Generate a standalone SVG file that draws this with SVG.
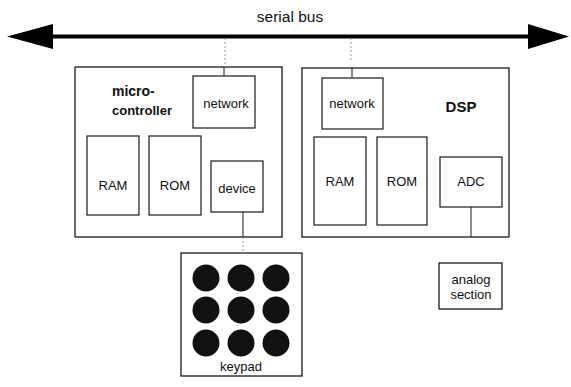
<svg xmlns="http://www.w3.org/2000/svg" width="571" height="387" viewBox="0 0 571 387">
<style>
.box{fill:#fff;stroke:#1a1a1a;stroke-width:1.3}
.in{fill:#fff;stroke:#1a1a1a;stroke-width:1.2}
.t{font-family:"Liberation Sans",Arial,sans-serif;font-size:13px;fill:#111;text-anchor:middle}
.b{font-weight:bold}
.w{stroke:#1a1a1a;stroke-width:1;fill:none}
.f{stroke:#999;stroke-width:1;fill:none;stroke-dasharray:2 2}
.key{fill:#111}
</style>
<rect width="571" height="387" fill="#fff"/>
<g id="bus">
<line x1="40" y1="36.5" x2="535" y2="36.5" stroke="#000" stroke-width="4"/>
<polygon points="7,36.5 53,24 53,49" fill="#000"/>
<polygon points="569,36.5 528,24 528,49" fill="#000"/>
<text class="t" x="290" y="22" style="font-size:15.5px">serial bus</text>
</g>
<g id="microcontroller">
<rect class="box" x="75" y="67" width="207" height="170"/>
<text class="t b" x="112" y="96" style="text-anchor:start;font-size:14px">micro-</text>
<text class="t b" x="112" y="115" style="text-anchor:start;font-size:13px">controller</text>
</g>
<g id="mc-network"><rect class="in" x="193" y="76" width="62" height="52"/><text class="t" x="226" y="108">network</text></g>
<g id="mc-ram"><rect class="in" x="87" y="136" width="52" height="79"/><text class="t" x="113" y="190">RAM</text></g>
<g id="mc-rom"><rect class="in" x="149" y="136" width="52" height="79"/><text class="t" x="175" y="190">ROM</text></g>
<g id="mc-device"><rect class="in" x="211" y="161" width="52" height="51"/><text class="t" x="237" y="193">device</text></g>
<g id="dsp">
<rect class="box" x="302" y="68" width="207" height="169"/>
<text class="t b" x="461" y="112" style="font-size:15px">DSP</text>
</g>
<g id="dsp-network"><rect class="in" x="322" y="78" width="61" height="51"/><text class="t" x="352" y="108">network</text></g>
<g id="dsp-ram"><rect class="in" x="314" y="137" width="52" height="88"/><text class="t" x="340" y="186">RAM</text></g>
<g id="dsp-rom"><rect class="in" x="377" y="137" width="50" height="88"/><text class="t" x="402" y="186">ROM</text></g>
<g id="dsp-adc"><rect class="in" x="440" y="157" width="62" height="50"/><text class="t" x="471" y="186">ADC</text></g>
<g id="keypad">
<rect class="box" x="181" y="253" width="121" height="123"/>
<circle class="key" cx="206" cy="278" r="13.5"/><circle class="key" cx="241" cy="278" r="13.5"/><circle class="key" cx="276" cy="278" r="13.5"/>
<circle class="key" cx="206" cy="310" r="13.5"/><circle class="key" cx="241" cy="310" r="13.5"/><circle class="key" cx="276" cy="310" r="13.5"/>
<circle class="key" cx="206" cy="343" r="13.5"/><circle class="key" cx="241" cy="343" r="13.5"/><circle class="key" cx="276" cy="343" r="13.5"/>
<text class="t" x="241" y="371">keypad</text>
</g>
<g id="analog">
<rect class="box" x="439" y="263" width="63" height="46"/>
<text class="t" x="471" y="284">analog</text>
<text class="t" x="471" y="299">section</text>
</g>
<g id="connectors">
<line class="f" x1="225" y1="38" x2="225" y2="67"/>
<line class="w" x1="224" y1="67" x2="224" y2="76"/>
<line class="f" x1="351" y1="38" x2="351" y2="62"/>
<line class="w" x1="352" y1="68" x2="352" y2="78"/>
<line class="w" x1="243" y1="212" x2="243" y2="237"/>
<line class="f" x1="243" y1="237" x2="243" y2="253"/>
<line class="w" x1="471" y1="207" x2="471" y2="237"/>
</g>
</svg>
